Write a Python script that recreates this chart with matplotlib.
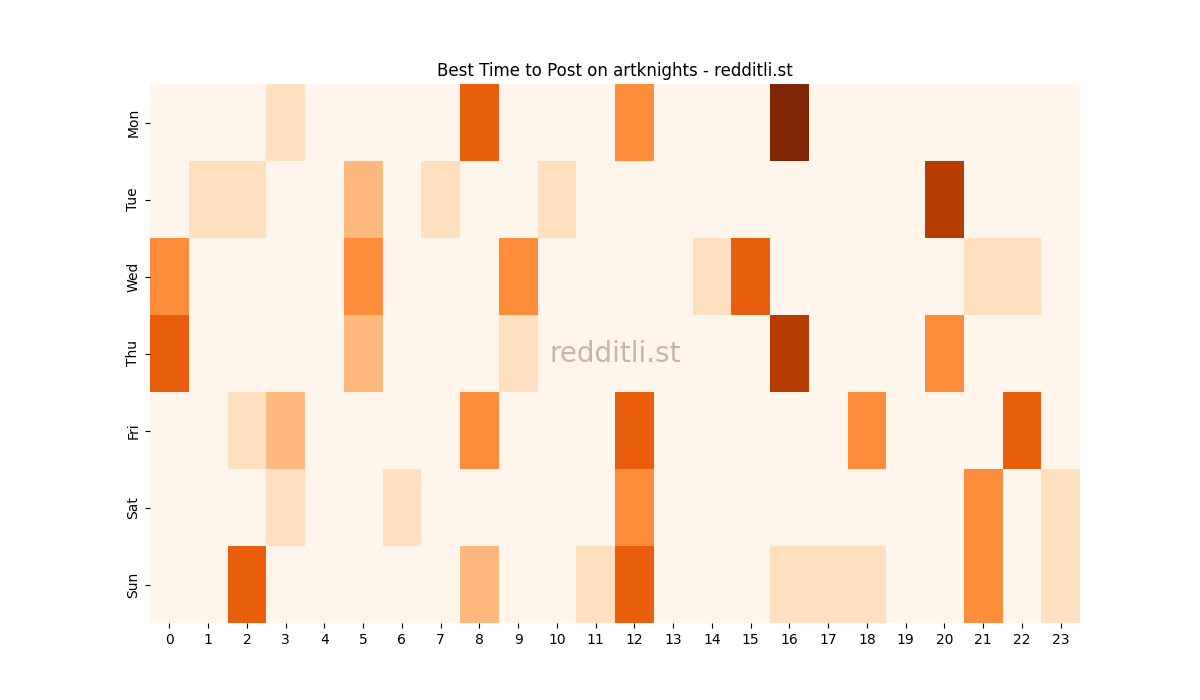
import matplotlib
matplotlib.use("Agg")
import matplotlib.pyplot as plt
import seaborn as sns
import numpy as np

days = ["Mon", "Tue", "Wed", "Thu", "Fri", "Sat", "Sun"]
hours = list(range(24))
mon = {3: 1, 8: 4, 12: 3, 16: 6}
tue = {1: 1, 2: 1, 5: 2, 7: 1, 10: 1, 20: 5}
wed = {0: 3, 5: 3, 9: 3, 14: 1, 15: 4, 21: 1, 22: 1}
thu = {0: 4, 5: 2, 9: 1, 16: 5, 20: 3}
fri = {2: 1, 3: 2, 8: 3, 12: 4, 18: 3, 22: 4}
sat = {3: 1, 6: 1, 12: 3, 21: 3, 23: 1}
sun = {2: 4, 8: 2, 11: 1, 12: 4, 16: 1, 17: 1, 18: 1, 21: 3, 23: 1}
rows = [mon, tue, wed, thu, fri, sat, sun]

data = np.zeros((7, 24))
for i, r in enumerate(rows):
    for h, v in r.items():
        data[i, h] = v

fig, ax = plt.subplots(figsize=(12, 7), dpi=100)
sns.heatmap(data, cmap="Oranges", vmin=0, vmax=6, cbar=False, ax=ax,
            xticklabels=hours, yticklabels=days)
ax.set_title("Best Time to Post on artknights - redditli.st")
ax.text(0.5, 0.5, "redditli.st", transform=ax.transAxes, ha="center", va="center",
        fontsize=20, color="#c8b4a8")
plt.setp(ax.get_xticklabels(), rotation=0)
fig.savefig("out.png")
